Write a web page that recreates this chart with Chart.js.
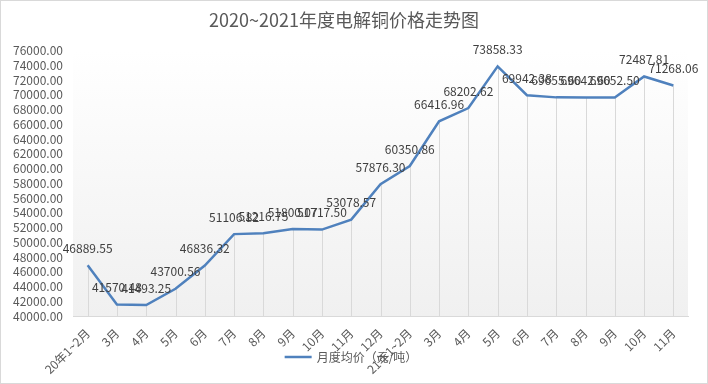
<!DOCTYPE html>
<html>
<head>
<meta charset="utf-8">
<script src="https://cdn.jsdelivr.net/npm/chart.js@4/dist/chart.umd.min.js"></script>
<style>
    html, body { margin: 0; padding: 0; background: #ffffff; }
    #wrap { width: 708px; height: 384px; }
</style>
</head>
<body>
<div id="wrap"><canvas id="priceChart" width="708" height="384"></canvas></div>
<script>
// Chart data
const months = [
    '20年1~2月', '3月', '4月', '5月', '6月', '7月', '8月', '9月', '10月', '11月', '12月',
    '21年1~2月', '3月', '4月', '5月', '6月', '7月', '8月', '9月', '10月', '11月'
];
const avgPrice = [
    46889.55, 41570.48, 41493.25, 43700.56, 46836.32, 51106.82, 51216.75, 51800.07, 51717.50, 53078.57, 57876.30,
    60350.86, 66416.96, 68202.62, 73858.33, 69942.38, 69655.60, 69642.60, 69652.50, 72487.81, 71268.06
];
const seriesName = '月度均价（元/吨）';
const chartTitle = '2020~2021年度电解铜价格走势图';
const yMin = 40000;
const yMax = 76000;
const yStep = 2000;

const fontFamily = '"Noto Sans CJK SC", "Noto Sans", sans-serif';
const lineColor = '#4f81bd';

// Plot area background + outer border
const backgroundPlugin = {
    id: 'plotBackground',
    beforeDraw(chart) {
        const ctx = chart.ctx;
        const area = chart.chartArea;
        ctx.save();
        ctx.fillStyle = '#ffffff';
        ctx.fillRect(0, 0, chart.width, chart.height);
        const grad = ctx.createLinearGradient(0, area.top, 0, area.bottom);
        grad.addColorStop(0, '#ffffff');
        grad.addColorStop(1, '#f0f0f0');
        ctx.fillStyle = grad;
        ctx.fillRect(area.left, area.top, area.right - area.left, area.bottom - area.top);
        ctx.strokeStyle = '#d9d9d9';
        ctx.lineWidth = 1;
        ctx.strokeRect(0.5, 0.5, chart.width - 1, chart.height - 1);
        ctx.restore();
    }
};

// Drop lines from each point down to the category axis
const dropLinePlugin = {
    id: 'dropLines',
    beforeDatasetsDraw(chart) {
        const ctx = chart.ctx;
        const meta = chart.getDatasetMeta(0);
        const bottom = chart.chartArea.bottom;
        ctx.save();
        ctx.strokeStyle = '#d9d9d9';
        ctx.lineWidth = 1;
        meta.data.forEach(pt => {
            const x = Math.round(pt.x) + 0.5;
            ctx.beginPath();
            ctx.moveTo(x, pt.y);
            ctx.lineTo(x, bottom);
            ctx.stroke();
        });
        ctx.restore();
    }
};

// Value labels above points
const valueLabelPlugin = {
    id: 'valueLabels',
    afterDatasetsDraw(chart) {
        const ctx = chart.ctx;
        const meta = chart.getDatasetMeta(0);
        const values = chart.data.datasets[0].data;
        ctx.save();
        ctx.font = '12px ' + fontFamily;
        ctx.fillStyle = '#404040';
        ctx.textAlign = 'center';
        ctx.textBaseline = 'middle';
        meta.data.forEach((pt, i) => {
            ctx.fillText(values[i].toFixed(2), pt.x, pt.y - 17);
        });
        ctx.restore();
    }
};

// Legend drawn over the bottom strip (overlaps the rotated labels like the original)
const bottomLegendPlugin = {
    id: 'bottomLegend',
    afterDraw(chart) {
        const ctx = chart.ctx;
        const ds = chart.data.datasets[0];
        const y = 357;
        const sample = 27;
        const gap = 5;
        ctx.save();
        ctx.font = '12px ' + fontFamily;
        const textW = ctx.measureText(ds.label).width;
        const startX = chart.width / 2 - (sample + gap + textW) / 2 - 3;
        ctx.strokeStyle = ds.borderColor;
        ctx.lineWidth = ds.borderWidth;
        ctx.beginPath();
        ctx.moveTo(startX, y);
        ctx.lineTo(startX + sample, y);
        ctx.stroke();
        ctx.fillStyle = '#595959';
        ctx.textAlign = 'left';
        ctx.textBaseline = 'middle';
        ctx.fillText(ds.label, startX + sample + gap, y);
        ctx.restore();
    }
};

const ctx = document.getElementById('priceChart').getContext('2d');
new Chart(ctx, {
    type: 'line',
    data: {
        labels: months,
        datasets: [{
            label: seriesName,
            data: avgPrice,
            borderColor: lineColor,
            backgroundColor: lineColor,
            borderWidth: 2.5,
            pointRadius: 0,
            pointHoverRadius: 0,
            tension: 0,
            fill: false
        }]
    },
    options: {
        responsive: false,
        animation: false,
        devicePixelRatio: 1,
        layout: {
            padding: { left: 0, right: 20, top: 0, bottom: 0 }
        },
        plugins: {
            title: {
                display: true,
                text: chartTitle,
                color: '#595959',
                font: { family: fontFamily, size: 18, weight: 'normal' },
                padding: { top: 9, bottom: 20 }
            },
            legend: { display: false },
            tooltip: { enabled: false }
        },
        scales: {
            x: {
                offset: true,
                grid: { display: false, drawTicks: false },
                border: { display: true, color: '#d9d9d9', width: 1 },
                ticks: {
                    color: '#595959',
                    font: { family: fontFamily, size: 12 },
                    minRotation: 45,
                    maxRotation: 45,
                    autoSkip: false,
                    padding: 10
                },
                afterFit(scale) {
                    scale.height = 68;
                }
            },
            y: {
                min: yMin,
                max: yMax,
                grid: { display: false, drawTicks: false },
                border: { display: false },
                ticks: {
                    stepSize: yStep,
                    autoSkip: false,
                    color: '#595959',
                    font: { family: fontFamily, size: 12 },
                    padding: 10,
                    callback: v => Number(v).toFixed(2)
                },
                afterFit(scale) {
                    scale.width = 73;
                }
            }
        }
    },
    plugins: [backgroundPlugin, dropLinePlugin, valueLabelPlugin, bottomLegendPlugin]
});
</script>
</body>
</html>
